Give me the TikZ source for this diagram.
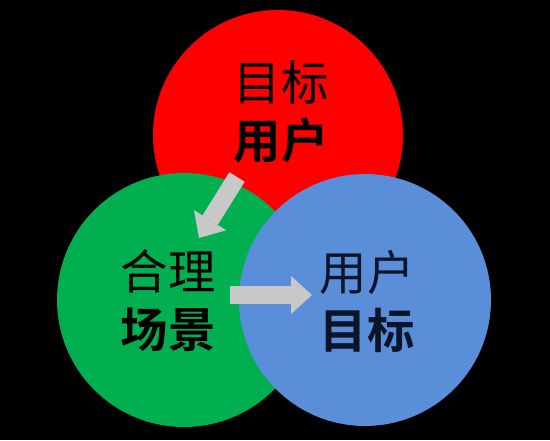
\documentclass[tikz,border=0pt]{standalone}
\usepackage{fontspec}
\usetikzlibrary{arrows.meta}
\newfontfamily\cjk{Noto Sans CJK SC}[BoldFont={* Bold}]
\definecolor{rojo}{RGB}{255,0,0}
\definecolor{verde}{RGB}{0,176,80}
\definecolor{azul}{RGB}{90,142,216}
\definecolor{flecha}{RGB}{200,200,200}
\definecolor{tinta}{RGB}{12,20,42}

\begin{document}
\begin{tikzpicture}[x=0.02cm, y=-0.02cm]
% Configuración de estilos
\tikzstyle{circulo} = [circle, inner sep=0pt, minimum size=5cm]
\tikzstyle{texto} = [align=center, inner sep=0pt, font=\cjk\fontsize{27}{33}\selectfont]
\tikzstyle{flechagris} = [draw=flecha, line width=0.36cm, -{Triangle[width=0.76cm, length=0.42cm, line width=0pt]}]

% Fondo
\fill[black] (0,0) rectangle (550,440);
\useasboundingbox (0,0) rectangle (550,440);

% Círculos
\node[circulo, fill=rojo] (usuarios) at (278,135) {};
\node[circulo, fill=verde, minimum size=5.08cm] (escena) at (184,300) {};
\node[circulo, fill=azul, minimum size=5.04cm] (metas) at (365,300) {};

% Textos
\node[texto] (tusuarios) at (281,112) {目标\\\textbf{用户}};
\node[texto] (tescena) at (168,301) {合理\\\textbf{场景}};
\node[texto, text=tinta] (tmetas) at (367,302) {用户\\\textbf{目标}};

% Flechas
\coordinate (f1a) at (237,177);
\coordinate (f1b) at (199,238);
\coordinate (f2a) at (230,295);
\coordinate (f2b) at (312,295);
\draw[flechagris] (f1a) -- (f1b);
\draw[flechagris] (f2a) -- (f2b);
\end{tikzpicture}
\end{document}
